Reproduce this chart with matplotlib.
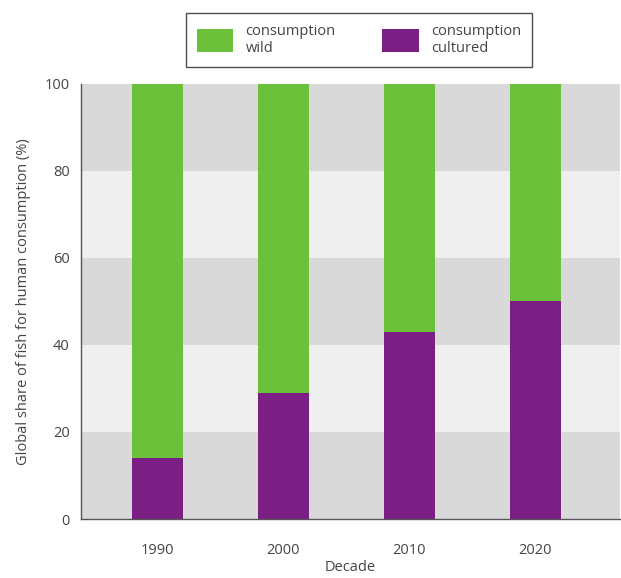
import matplotlib.pyplot as plt
from matplotlib.patches import Patch

decades = ['1990', '2000', '2010', '2020']
cultured = [14, 29, 43, 50]
wild = [100 - c for c in cultured]

green = '#6cc13a'
purple = '#7c1f84'
text_col = '#444444'

plt.rcParams['font.family'] = ['Open Sans', 'DejaVu Sans']

fig = plt.figure(figsize=(6.21, 5.78), dpi=100)
ax = fig.add_axes([0.130, 0.102, 0.868, 0.753])

# alternating horizontal bands behind the bars
for i, lo in enumerate(range(0, 100, 20)):
    ax.axhspan(lo, lo + 20, color='#d9d9d9' if i % 2 == 0 else '#efefef', zorder=0, lw=0)

x = range(len(decades))
ax.bar(x, cultured, width=0.41, color=purple, zorder=2)
ax.bar(x, wild, bottom=cultured, width=0.41, color=green, zorder=2)

ax.set_xlim(-0.61, 3.67)
ax.set_ylim(0, 100)
ax.set_xticks(list(x))
ax.set_xticklabels(decades)
ax.set_yticks(range(0, 101, 20))
ax.tick_params(length=0, labelsize=10.5, colors=text_col)
ax.tick_params(axis='x', pad=17)
ax.tick_params(axis='y', pad=8)
for s in ['top', 'right']:
    ax.spines[s].set_visible(False)
for s in ['left', 'bottom']:
    ax.spines[s].set_color('#555555')
    ax.spines[s].set_linewidth(1.0)

ax.set_xlabel('Decade', fontsize=10.5, color=text_col, labelpad=2)
ax.set_ylabel('Global share of fish for human consumption (%)', fontsize=10.5, color=text_col, labelpad=10)

handles = [Patch(facecolor=green, edgecolor='none'), Patch(facecolor=purple, edgecolor='none')]
leg = fig.legend(handles, ['consumption\nwild', 'consumption\ncultured'], ncol=2,
                 loc='center', bbox_to_anchor=(0.578, 0.931), frameon=True, fancybox=False,
                 edgecolor='#222222', fontsize=10.5, handlelength=2.5, handleheight=2.0,
                 columnspacing=3.2, borderpad=0.75, borderaxespad=0, handletextpad=0.85)
for t in leg.get_texts():
    t.set_color(text_col)
    t.set_linespacing(1.15)
leg.get_frame().set_linewidth(1.0)

fig.savefig('out.png', dpi=100)
